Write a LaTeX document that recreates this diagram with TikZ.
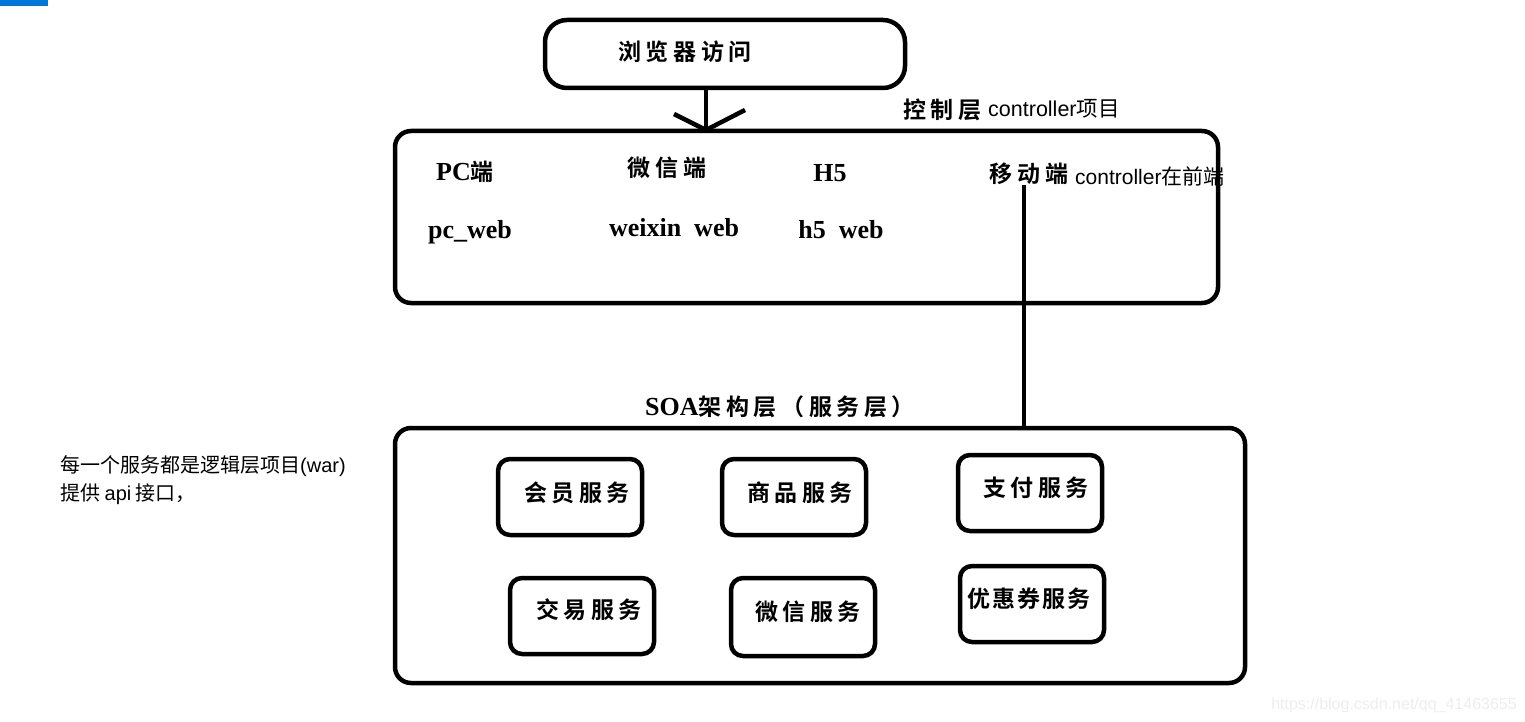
\documentclass[tikz,border=0pt]{standalone}
\usepackage{fontspec}
\setmainfont{Liberation Serif}
\newfontfamily\cjkb{Noto Sans CJK SC}[BoldFont={* Bold},LetterSpace=20]
\newfontfamily\cjk{Noto Sans CJK SC}
\newfontfamily\lsans{Liberation Sans}
\begin{document}
\begin{tikzpicture}[x=1pt,y=-1pt,
  box/.style={draw=black,line width=4.5pt,rounded corners=16pt},
  lbl/.style={font=\fontsize{23}{25}\selectfont\bfseries\cjkb,inner sep=0pt},
  lat/.style={font=\fontsize{26}{28}\selectfont\bfseries,inner sep=0pt},
  note/.style={font=\fontsize{20}{23}\selectfont\lsans\cjk,inner sep=0pt},
  conn/.style={line width=4.5pt}]
\useasboundingbox (0,0) rectangle (1525,722);
\fill[fill={rgb,255:red,0;green,120;blue,215}] (0,0) rectangle (48,6);
% browser box
\draw[box,rounded corners=22pt] (545,20) rectangle (905,88);
\node[lbl] (browser) at (685,52) {浏览器访问};
\coordinate (bb) at (706,88);
\coordinate (tip) at (706,130);
\draw[conn] (bb) -- (tip);
\draw[conn] (674,114) -- (tip) -- (745,110);
% controller layer
\draw[box] (395,131) rectangle (1218,303);
\node[lbl,anchor=west] (ctl) at (903,110) {控制层};
\node[note,anchor=west,font=\fontsize{21.5}{24}\selectfont\cjk] (ctlnote) at (988,109) {{\lsans controller}项目};
\node[lbl] (pc) at (465,172) {{\fontsize{26}{28}\selectfont\bfseries\rmfamily PC}端};
\node[lbl] (wx) at (667,168) {微信端};
\node[lat] (h5) at (830,173) {H5};
\node[lbl] (mob) at (1029,174) {移动端};
\node[note,anchor=west,font=\fontsize{21}{24}\selectfont\cjk] (mobnote) at (1075,176) {{\lsans controller}在前端};
\node[lat] (pcw) at (470,232) {pc\_web};
\node[lat] (wxw) at (674,228) {weixin\ \ web};
\node[lat] (h5w) at (841,230) {h5\ \ web};
% SOA layer
\node[lbl] (soa) at (780,407) {{\fontsize{26}{28}\selectfont\bfseries\rmfamily SOA}架构层（服务层）};
\draw[box] (395,428) rectangle (1245,683);
\coordinate (mobbot) at (1024,185);
\coordinate (soatop) at (1024,428);
\draw[conn] (mobbot) -- (soatop);
% services
\draw[box,rounded corners=12pt] (498,459) rectangle (642,535);
\node[lbl] (s1) at (577,493) {会员服务};
\draw[box,rounded corners=12pt] (722,459) rectangle (866,535);
\node[lbl] (s2) at (800,493) {商品服务};
\draw[box,rounded corners=12pt] (958,455) rectangle (1102,531);
\node[lbl] (s3) at (1036,488) {支付服务};
\draw[box,rounded corners=12pt] (510,578) rectangle (654,654);
\node[lbl] (s4) at (589,610) {交易服务};
\draw[box,rounded corners=12pt] (731,578) rectangle (875,656);
\node[lbl] (s5) at (808,612) {微信服务};
\draw[box,rounded corners=12pt] (960,566) rectangle (1104,642);
\node[lbl,font=\fontsize{23}{25}\selectfont\bfseries\cjkb\addfontfeature{LetterSpace=8}] (s6) at (1029,599) {优惠券服务};
% left note
\node[note,anchor=west] (n1) at (60,466) {每一个服务都是逻辑层项目{\lsans (war)}};
\node[note,anchor=west] (n2) at (60,494) {提供 {\lsans api} 接口，};
% watermark
\node[font=\fontsize{16}{18}\selectfont\lsans,text=black!7,inner sep=0pt] (wm) at (1394,705) {https://blog.csdn.net/qq\_41463655};
\end{tikzpicture}
\end{document}
